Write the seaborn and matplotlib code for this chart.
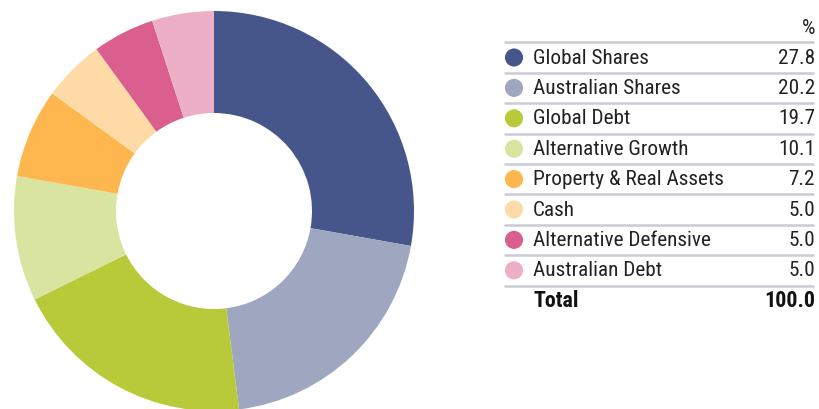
import seaborn as sns
import matplotlib.pyplot as plt
from matplotlib import font_manager
import pandas as pd

# asset allocation data
categories = ['Global Shares', 'Australian Shares', 'Global Debt', 'Alternative Growth',
              'Property & Real Assets', 'Cash', 'Alternative Defensive', 'Australian Debt']
values = [27.8, 20.2, 19.7, 10.1, 7.2, 5.0, 5.0, 5.0]
colors = ['#46568A', '#9FA6C0', '#B8CA3A', '#DAE4A1', '#FEB64E', '#FEDBA6', '#DA5F8E', '#EDAFC6']
total_label = 'Total'
total_value = 100.0

sns.set_theme(style='white')
installed = {f.name for f in font_manager.fontManager.ttflist}
fams = [f for f in ['Roboto Condensed', 'Liberation Sans Narrow', 'DejaVu Sans Condensed'] if f in installed]
plt.rcParams['font.family'] = fams + ['DejaVu Sans']

fig = plt.figure(figsize=(8.19, 4.09), dpi=100)

# donut
W, H = 819, 409
cx, cy, r = 214, 198, 200
ax = fig.add_axes([(cx - r) / W, (cy - r) / H, 2 * r / W, 2 * r / H])
ax.pie(values, colors=colors, startangle=90, counterclock=False, radius=1,
       wedgeprops=dict(width=0.51, linewidth=0))
ax.set_xlim(-1, 1)
ax.set_ylim(-1, 1)
ax.set_aspect('equal')
ax.axis('off')

# table legend, pixel coords
tx = fig.add_axes([0, 0, 1, 1])
tx.set_xlim(0, W)
tx.set_ylim(H, 0)
tx.axis('off')

row_h = 30.4
first = 57.5
df = pd.DataFrame({'cat': categories, 'val': values,
                   'y': [first + i * row_h for i in range(len(categories))]})
df['x'] = 514
sns.scatterplot(data=df, x='x', y='y', hue='cat', palette=colors, s=170,
                linewidth=0, legend=False, ax=tx)
tx.set_xlim(0, W)
tx.set_ylim(H, 0)

fs = 15.3
tx.text(815, 28, '%', ha='right', va='center', fontsize=fs, color='#222222')
for i, row in df.iterrows():
    tx.text(533, row['y'] + 0.5, row['cat'], ha='left', va='center', fontsize=fs, color='#222222')
    tx.text(815, row['y'] + 0.5, f"{row['val']:.1f}", ha='right', va='center', fontsize=fs, color='#222222')
    tx.plot([505, 813], [row['y'] - row_h / 2, row['y'] - row_h / 2], color='#C9CBD5', lw=1.8)
ty = first + len(categories) * row_h
tx.plot([505, 813], [ty - row_h / 2, ty - row_h / 2], color='#C9CBD5', lw=1.8)
tx.text(533, ty + 0.5, total_label, ha='left', va='center', fontsize=fs + 0.5, fontweight='bold', color='#111111')
tx.text(815, ty + 0.5, f"{total_value:.1f}", ha='right', va='center', fontsize=fs + 0.5, fontweight='bold', color='#111111')

fig.savefig('out.png', dpi=100)
